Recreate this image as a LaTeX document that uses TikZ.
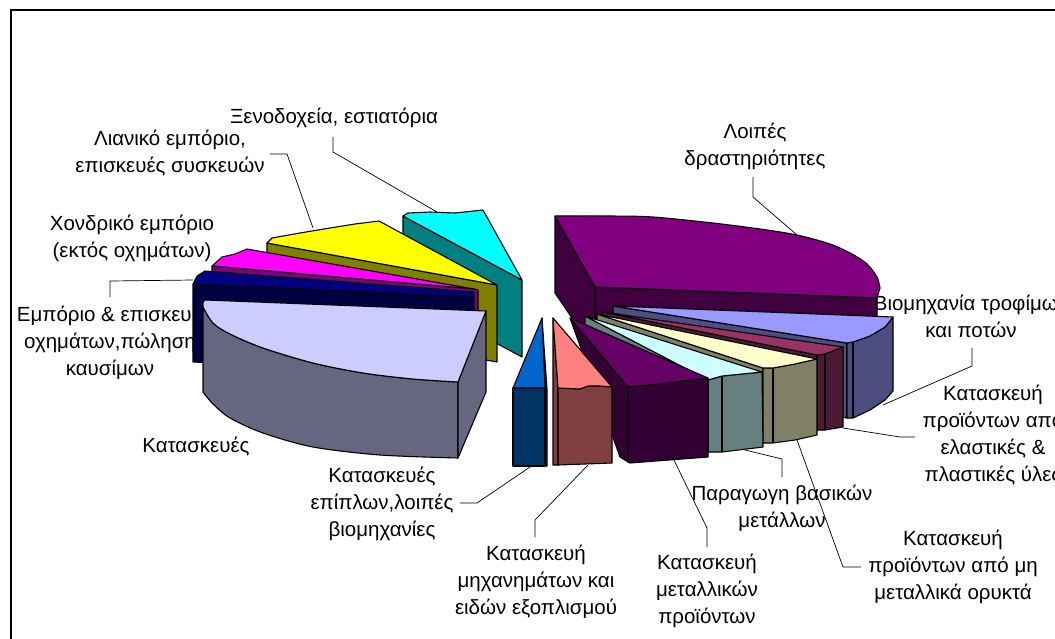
\documentclass[tikz,border=0pt]{standalone}
\usepackage{fontspec}
\setmainfont{Liberation Sans}
\newcommand\lblfont{\fontsize{20.5}{27}\selectfont}
\definecolor{lavT}{HTML}{CCCCFF}\definecolor{lavS}{HTML}{666680}
\definecolor{navT}{HTML}{000080}\definecolor{navS}{HTML}{000040}
\definecolor{magT}{HTML}{FF00FF}\definecolor{magS}{HTML}{800080}
\definecolor{yelT}{HTML}{FFFF00}\definecolor{yelS}{HTML}{808000}
\definecolor{cyaT}{HTML}{00FFFF}\definecolor{cyaS}{HTML}{008080}
\definecolor{purT}{HTML}{800080}\definecolor{purS}{HTML}{400040}
\definecolor{perT}{HTML}{9999FF}\definecolor{perS}{HTML}{4D4D80}
\definecolor{marT}{HTML}{993366}\definecolor{marS}{HTML}{4D1A33}
\definecolor{creT}{HTML}{FFFFCC}\definecolor{creS}{HTML}{808066}
\definecolor{lcyT}{HTML}{CCFFFF}\definecolor{lcyS}{HTML}{668080}
\definecolor{dpuT}{HTML}{660066}\definecolor{dpuS}{HTML}{330033}
\definecolor{salT}{HTML}{FF8080}\definecolor{salS}{HTML}{804040}
\definecolor{bluT}{HTML}{0066CC}\definecolor{bluS}{HTML}{003366}
\begin{document}
\begin{tikzpicture}[x=1pt,y=-1pt,
  face/.style={draw=black,line width=1.1pt,line join=round},
  lbl/.style={font=\lblfont,align=center,inner sep=0pt},
  leader/.style={draw=black,line width=0.7pt}]
\useasboundingbox (0,0) rectangle (1055,638);
\fill[white] (0,0) rectangle (1055,638);
\draw[line width=2pt] (1060,10) -- (11,10) -- (11,642);

% labels
\node[lbl] (l1) at (334,118) {Ξενοδοχεία, εστιατόρια};
\node[lbl] (l2) at (170,153.5) {Λιανικό εμπόριο,\\επισκευές συσκευών};
\node[lbl] (l3) at (132,238) {Χονδρικό εμπόριο\\(εκτός οχημάτων)};
\node[lbl] (l4) at (110,343) {Εμπόριο \& επισκευή\\οχημάτων,πώληση\\καυσίμων};
\node[lbl] (l5) at (755,146) {Λοιπές\\δραστηριότητες};
\node[lbl] (l6) at (971,316.5) {Βιομηχανία τροφίμων\\και ποτών};
\node[lbl] (l7) at (993,435.5) {Κατασκευή\\προϊόντων από\\ελαστικές \&\\πλαστικές ύλες};
\node[lbl] (l8) at (953,567) {Κατασκευή\\προϊόντων από μη\\μεταλλικά ορυκτά};
\node[lbl] (l9) at (782,508) {Παραγωγη βασικών\\μετάλλων};
\node[lbl] (l10) at (707,591) {Κατασκευή\\μεταλλικών\\προϊόντων};
\node[lbl] (l11) at (536,582) {Κατασκευή\\μηχανημάτων και\\ειδών εξοπλισμού};
\node[lbl] (l12) at (382,504) {Κατασκευές\\επίπλων,λοιπές\\βιομηχανίες};
\node[lbl] (l13) at (196,447) {Κατασκευές};

% ---- left group ----
% cyan
\filldraw[fill=cyaS,face] (403,216) -- (522,280) -- (522,357) -- (403,293) -- cycle;
\filldraw[fill=cyaT,face] (403,216) -- (408,213) -- (430,212) -- (455,213) -- (483,210) -- (522,280) -- cycle;
% yellow
\filldraw[fill=yelS,face] (267,243) -- (497,285) -- (497,362) -- (267,320) -- cycle;
\filldraw[fill=yelT,face] (267,243) -- (272,238) -- (300,233) -- (330,228) -- (355,224) -- (379,221) -- (497,285) -- cycle;
% magenta
\filldraw[fill=magS,face] (212,266) -- (474,289) -- (478,290) -- (478,366) -- (212,343) -- cycle;
\filldraw[fill=magT,face] (212,266) -- (222,257) -- (235,254) -- (247,249) -- (474,289) -- cycle;
% navy
\filldraw[fill=navS,face] (193,284) -- (474,297) -- (474,374) -- (193,362) -- cycle;
\filldraw[fill=navT,face] (193,284) -- (197,276) -- (205,271) -- (474,292) -- (474,297) -- cycle;
% lavender
\filldraw[fill=lavS,face] plot[smooth] coordinates {(203,307) (213,323) (230,334) (263,348) (313,363) (363,373) (413,379) (458,382)} -- (458,458) -- plot[smooth] coordinates {(458,458) (380,455) (313,447) (263,433) (230,418) (213,404) (203,392)} -- cycle;
\filldraw[fill=lavS,face] (458,382) -- (486,311) -- (486,392) -- (458,458) -- cycle;
\filldraw[fill=lavT,face] (203,302) -- (205,300) -- (486,311) -- (458,382) -- plot[smooth] coordinates {(458,382) (413,379) (363,373) (313,363) (263,348) (230,334) (213,323) (203,307)} -- cycle;

% ---- right group ----
% big purple
\filldraw[fill=purS,face] (555,216) -- (595,287) -- (595,363) -- (572,318) -- (555,293) -- cycle;
\filldraw[fill=purS,face] (595,287) -- (877,298) -- (877,373) -- (595,363) -- cycle;
\filldraw[fill=purT,face] (595,287) -- (555,216) -- plot[smooth] coordinates {(555,216) (610,216) (653,217) (713,223) (760,229) (797,235) (830,244) (852,254) (867,264) (877,277) (880,288)} -- (877,298) -- cycle;
% periwinkle
\filldraw[fill=perS,face] (613,306) -- (847,343) -- (847,418) -- (613,380) -- cycle;
\filldraw[fill=perS,face] (847,343) -- (853,342) -- (870,336) -- (885,327) -- (893,317) -- (893,391) -- (885,400) -- (870,410) -- (853,418) -- (847,418) -- cycle;
\draw[face] (853,342) -- (853,418);
\filldraw[fill=perT,face] (613,306) -- (893,317) -- (885,327) -- (870,336) -- (853,342) -- (847,343) -- cycle;
% maroon
\filldraw[fill=marS,face] (603,312) -- (817,355) -- (817,430) -- (603,388) -- cycle;
\filldraw[fill=marS,face] (817,355) -- (825,354) -- (843,347) -- (843,427) -- (825,430) -- (817,430) -- cycle;
\draw[face] (825,354) -- (825,430);
\filldraw[fill=marT,face] (603,312) -- (843,347) -- (825,354) -- (817,355) -- cycle;
% cream
\filldraw[fill=creS,face] (597,314) -- (763,368) -- (763,443) -- (597,390) -- cycle;
\filldraw[fill=creS,face] (763,368) -- (773,368) -- (795,364) -- (817,359) -- (817,435) -- (795,440) -- (773,443) -- (763,443) -- cycle;
\draw[face] (773,368) -- (773,443);
\filldraw[fill=creT,face] (597,314) -- (817,359) -- (795,364) -- (773,368) -- (763,368) -- cycle;
% light cyan
\filldraw[fill=lcyS,face] (585,316) -- (708,380) -- (708,452) -- (585,390) -- cycle;
\filldraw[fill=lcyS,face] (708,380) -- (722,376) -- (762,372) -- (763,447) -- (722,452) -- (708,452) -- cycle;
\draw[face] (722,376) -- (722,452);
\filldraw[fill=lcyT,face] (585,316) -- (762,372) -- (722,376) -- (708,380) -- cycle;
% dark purple
\filldraw[fill=dpuS,face] (570,318) -- (628,387) -- (628,462) -- (620,457) -- cycle;
\filldraw[fill=dpuS,face] (628,387) -- (660,384) -- (708,378) -- (708,457) -- (630,463) -- (628,462) -- cycle;
\filldraw[fill=dpuT,face] (570,318) -- (708,378) -- (660,384) -- (628,387) -- cycle;
% salmon
\filldraw[fill=salS,face] (553,318) -- (558,388) -- (558,465) -- (553,465) -- cycle;
\filldraw[fill=salS,face] (558,388) -- (580,389) -- (588,386) -- (600,386) -- (612,387) -- (612,463) -- (558,465) -- cycle;
\filldraw[fill=salT,face] (553,318) -- (612,387) -- (600,386) -- (588,386) -- (580,389) -- (558,388) -- cycle;
% blue
\filldraw[fill=bluS,face] (542,318) -- (547,389) -- (547,466) -- (545,466) -- (545,388) -- cycle;
\filldraw[fill=bluS,face] (513,388) -- (545,388) -- (545,466) -- (513,466) -- cycle;
\filldraw[fill=bluT,face] (542,318) -- (545,388) -- (513,388) -- cycle;

% ---- leaders ----
\coordinate (c1a) at (333,137); \coordinate (c1b) at (333,152); \coordinate (c1c) at (437,212);
\draw[leader] (c1a) -- (c1b) -- (c1c);
\coordinate (c2a) at (270,154); \coordinate (c2b) at (287,154); \coordinate (c2c) at (313,228);
\draw[leader] (c2a) -- (c2b) -- (c2c);
\coordinate (c4a) at (110,297); \coordinate (c4b) at (110,281); \coordinate (c4c) at (193,280);
\draw[leader] (c4a) -- (c4b) -- (c4c);
\coordinate (c5a) at (753,177); \coordinate (c5b) at (753,197); \coordinate (c5c) at (797,235);
\draw[leader] (c5a) -- (c5b) -- (c5c);
\coordinate (c6a) at (972,348); \coordinate (c6b) at (972,366); \coordinate (c6c) at (883,405);
\draw[leader] (c6a) -- (c6b) -- (c6c);
\coordinate (c7a) at (915,437); \coordinate (c7b) at (900,437); \coordinate (c7c) at (843,428);
\draw[leader] (c7a) -- (c7b) -- (c7c);
\coordinate (c8a) at (797,440); \coordinate (c8b) at (843,567); \coordinate (c8c) at (861,567);
\draw[leader] (c8a) -- (c8b) -- (c8c);
\coordinate (c9a) at (745,450); \coordinate (c9b) at (782,459); \coordinate (c9c) at (782,477);
\draw[leader] (c9a) -- (c9b) -- (c9c);
\coordinate (c10a) at (673,458); \coordinate (c10b) at (707,528); \coordinate (c10c) at (707,547);
\draw[leader] (c10a) -- (c10b) -- (c10c);
\coordinate (c11a) at (588,465); \coordinate (c11b) at (535,520); \coordinate (c11c) at (535,537);
\draw[leader] (c11a) -- (c11b) -- (c11c);
\coordinate (c12a) at (530,467); \coordinate (c12b) at (477,503); \coordinate (c12c) at (460,503);
\draw[leader] (c12a) -- (c12b) -- (c12c);
\end{tikzpicture}
\end{document}
